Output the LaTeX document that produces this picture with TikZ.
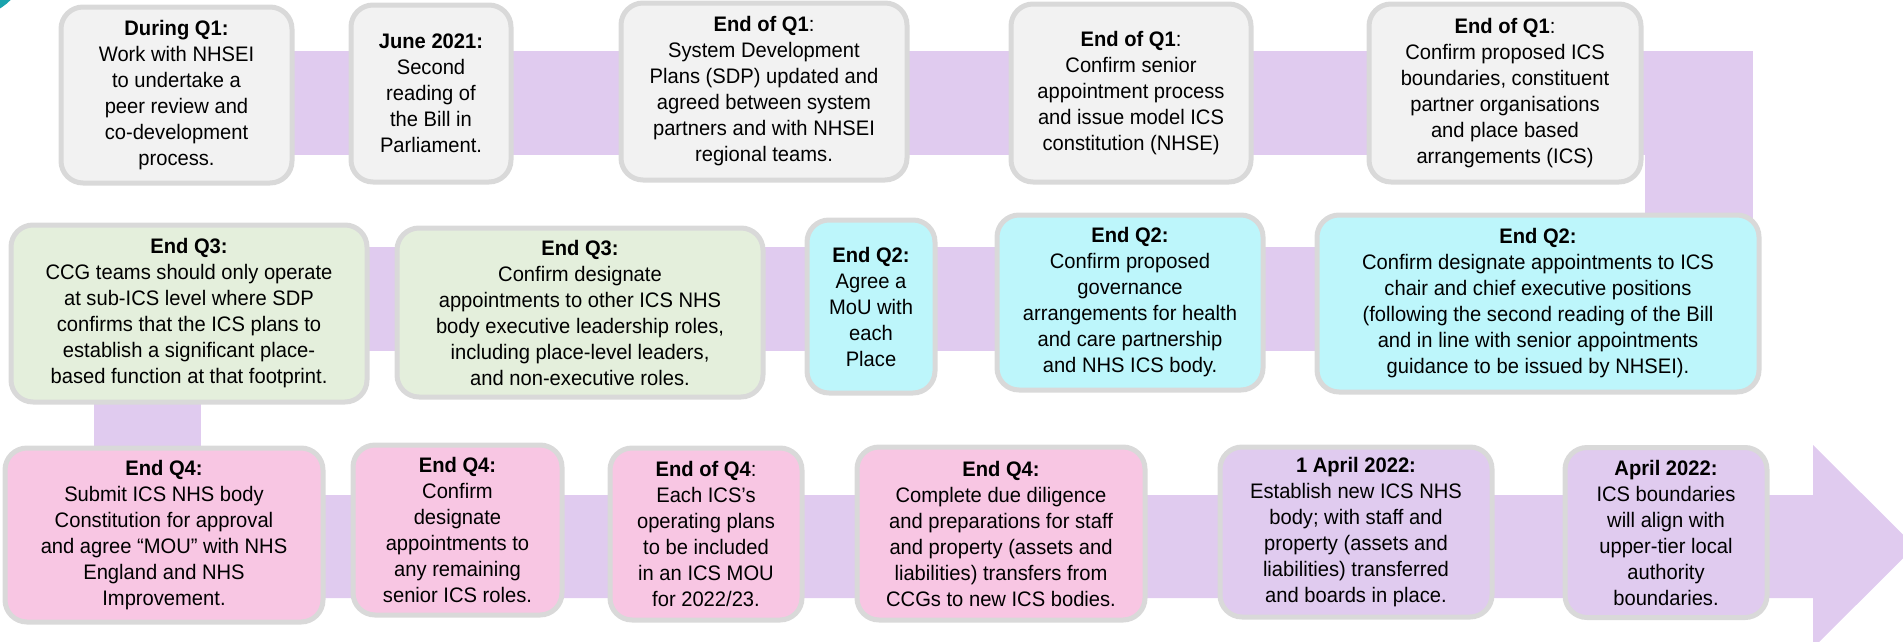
\documentclass[tikz,border=0pt]{standalone}
\usepackage{fontspec}
\setmainfont[FakeStretch=0.96]{Liberation Sans}
\definecolor{band}{HTML}{E0CBEF}
\definecolor{bordergray}{HTML}{D9D9D9}
\definecolor{boxgray}{HTML}{F2F2F2}
\definecolor{boxgreen}{HTML}{E4EFDC}
\definecolor{boxcyan}{HTML}{BDF6FB}
\definecolor{boxpink}{HTML}{F8C6E3}
\definecolor{tealc}{HTML}{1AA3AD}
\tikzset{
  tl/.style={rectangle, rounded corners=22pt, draw=bordergray, line width=5pt,
    align=center, inner sep=0pt, text=black, font=\fontsize{21}{26}\selectfont},
  grayb/.style={tl, fill=boxgray},
  greenb/.style={tl, fill=boxgreen},
  cyanb/.style={tl, fill=boxcyan},
  pinkb/.style={tl, fill=boxpink},
  purpb/.style={tl, fill=band},
}
\begin{document}
\begin{tikzpicture}[x=1pt, y=-1pt]
\useasboundingbox (0,0) rectangle (1903,641);
\clip (0,0) rectangle (1903,641);
% teal corner
\fill[tealc] (-30,-40) circle (57pt);
% turning points of the band
\coordinate (r1s) at (176,51);
\coordinate (r1e) at (1753,155);
\coordinate (vR1) at (1645,51);
\coordinate (vR2) at (1753,351);
\coordinate (r2s) at (94,247);
\coordinate (r2e) at (1753,351);
\coordinate (vL1) at (94,247);
\coordinate (vL2) at (201,598);
% bands
\fill[band] (r1s) rectangle (r1e);
\fill[band] (vR1) rectangle (vR2);
\fill[band] (r2s) rectangle (r2e);
\fill[band] (vL1) rectangle (vL2);
\fill[band] (94,495) -- (1813,495) -- (1813,445) -- (1915,546.5) -- (1813,648) -- (1813,598) -- (94,598) -- cycle;
% row 1
\node[grayb, minimum width=231pt, minimum height=176pt] (b1) at (176.5,95)
  {\textbf{During Q1:}\\Work with NHSEI\\to undertake a\\peer review and\\co-development\\process.};
\node[grayb, minimum width=160pt, minimum height=177pt] (b2) at (431,93.5)
  {\textbf{June 2021:}\\Second\\reading of\\the Bill in\\Parliament.};
\node[grayb, minimum width=286pt, minimum height=177pt] (b3) at (764,91.5)
  {\textbf{End of Q1}:\\System Development\\Plans (SDP) updated and\\agreed between system\\partners and with NHSEI\\regional teams.};
\node[grayb, minimum width=240pt, minimum height=178pt] (b4) at (1131,93)
  {\textbf{End of Q1}:\\Confirm senior\\appointment process\\and issue model ICS\\constitution (NHSE)};
\node[grayb, minimum width=272pt, minimum height=178pt] (b5) at (1505,93)
  {\textbf{End of Q1}:\\Confirm proposed ICS\\boundaries, constituent\\partner organisations\\and place based\\arrangements (ICS)};
% row 2
\node[greenb, minimum width=356pt, minimum height=177pt] (b6) at (189,313.5)
  {\textbf{End Q3:}\\CCG teams should only operate\\at sub-ICS level where SDP\\confirms that the ICS plans to\\establish a significant place-\\based function at that footprint.};
\node[greenb, minimum width=366pt, minimum height=169pt] (b7) at (580,312.5)
  {\textbf{End Q3:}\\Confirm designate\\appointments to other ICS NHS\\body executive leadership roles,\\including place-level leaders,\\and non-executive roles.};
\node[cyanb, minimum width=128pt, minimum height=173pt] (b8) at (871,306.5)
  {\textbf{End Q2:}\\Agree a\\MoU with\\each\\Place};
\node[cyanb, minimum width=266pt, minimum height=175pt] (b9) at (1130,302.5)
  {\textbf{End Q2:}\\Confirm proposed\\governance\\arrangements for health\\and care partnership\\and NHS ICS body.};
\node[cyanb, minimum width=442pt, minimum height=177pt] (b10) at (1538,303.5)
  {\textbf{End Q2:}\\Confirm designate appointments to ICS\\chair and chief executive positions\\(following the second reading of the Bill\\and in line with senior appointments\\guidance to be issued by NHSEI).};
% row 3
\node[pinkb, minimum width=318pt, minimum height=174pt] (b11) at (164,535)
  {\textbf{End Q4:}\\Submit ICS NHS body\\Constitution for approval\\and agree “MOU” with NHS\\England and NHS\\Improvement.};
\node[pinkb, minimum width=209pt, minimum height=170pt] (b12) at (457.5,530)
  {\textbf{End Q4:}\\Confirm\\designate\\appointments to\\any remaining\\senior ICS roles.};
\node[pinkb, minimum width=192pt, minimum height=172pt] (b13) at (706,534)
  {\textbf{End of Q4}:\\Each ICS’s\\operating plans\\to be included\\in an ICS MOU\\for 2022/23.};
\node[pinkb, minimum width=288pt, minimum height=173pt] (b14) at (1001,533.5)
  {\textbf{End Q4:}\\Complete due diligence\\and preparations for staff\\and property (assets and\\liabilities) transfers from\\CCGs to new ICS bodies.};
\node[purpb, minimum width=272pt, minimum height=170pt] (b15) at (1356,532)
  {\textbf{1 April 2022:}\\Establish new ICS NHS\\body; with staff and\\property (assets and\\liabilities) transferred\\and boards in place.};
\node[purpb, minimum width=202pt, minimum height=170pt] (b16) at (1666,532.5)
  {\textbf{April 2022:}\\ICS boundaries\\will align with\\upper-tier local\\authority\\boundaries.};
\end{tikzpicture}
\end{document}
